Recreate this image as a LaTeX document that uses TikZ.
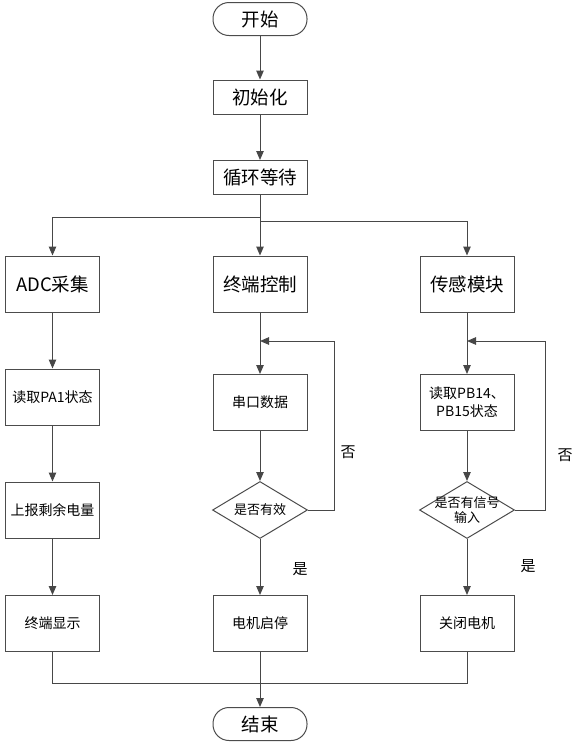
\documentclass[tikz,border=0pt]{standalone}
\usepackage{fontspec}
\newfontfamily\cjk{Noto Sans CJK SC}
\usetikzlibrary{arrows.meta,shapes.geometric}
\tikzset{
  ln/.style={draw=black!72,line width=1pt},
  arr/.style={ln,-{Triangle[length=9pt,width=7.5pt]}},
  base/.style={draw=black!70,line width=1pt,fill=white,inner sep=0pt,align=center,font=\cjk\fontsize{18.5}{21}\selectfont},
  term/.style={base,rectangle,rounded corners=16pt,minimum width=94pt,minimum height=33pt},
  bigbox/.style={base,rectangle,minimum width=94pt,minimum height=34pt},
  colbox/.style={base,rectangle,minimum width=94pt,minimum height=56pt},
  smallbox/.style={base,rectangle,minimum width=94pt,minimum height=56pt,font=\cjk\fontsize{14}{18}\selectfont},
  dia/.style={base,diamond,minimum width=95pt,minimum height=57pt},
  dtext/.style={font=\cjk\fontsize{13}{15.5}\selectfont,align=center},
  lbl/.style={font=\cjk\fontsize{15}{16}\selectfont,inner sep=0pt}
}
\begin{document}
\begin{tikzpicture}[x=1pt,y=-1pt]
\useasboundingbox (0,0) rectangle (582,748);
% top
\node[term] (start) at (260,19) {开始};
\node[bigbox] (init) at (260,97) {初始化};
\node[bigbox] (wait) at (260,177.5) {循环等待};
% row 1
\node[colbox] (adc) at (52.5,284) {ADC采集};
\node[colbox] (ctrl) at (260,284) {终端控制};
\node[colbox] (sens) at (467,284) {传感模块};
% row 2
\node[smallbox] (pa1) at (52.5,397) {读取PA1状态};
\node[smallbox] (uart) at (260,402.5) {串口数据};
\node[smallbox] (pb) at (467,402.5) {读取PB14、\\PB15状态};
% row 3
\node[smallbox] (rep) at (52.5,510) {上报剩余电量};
\node[dia,label={[dtext]center:是否有效}] (d1) at (260,510) {};
\node[dia,label={[dtext]center:是否有信号\\输入}] (d2) at (467,510) {};
% row 4
\node[smallbox] (disp) at (52.5,623.5) {终端显示};
\node[smallbox] (motor) at (260,623.5) {电机启停};
\node[smallbox] (off) at (467,623.5) {关闭电机};
% end
\node[term] (stop) at (260,724) {结束};
% labels
\node[lbl] (no1) at (348,452) {否};
\node[lbl] (no2) at (565,455) {否};
\node[lbl] (yes1) at (300,569) {是};
\node[lbl] (yes2) at (528,566) {是};
% coordinates
\coordinate (br) at (260,217);
\coordinate (br2) at (260,221);
\coordinate (j1) at (260,341);
\coordinate (c1) at (334,341);
\coordinate (j2) at (467,341);
\coordinate (c2) at (545,341);
\coordinate (m) at (260,683);
% connectors
\draw[arr] (start) -- (init);
\draw[arr] (init) -- (wait);
\draw[ln] (wait.south) -- (br);
\draw[arr] (br) -| (adc.north);
\draw[arr] (br) -- (ctrl.north);
\draw[arr] (br2) -| (sens.north);
\draw[arr] (adc) -- (pa1);
\draw[arr] (pa1) -- (rep);
\draw[arr] (rep) -- (disp);
\draw[arr] (ctrl) -- (uart);
\draw[arr] (uart) -- (d1);
\draw[arr] (d1) -- (motor);
\draw[arr] (d1.east) -| (c1) -- (j1);
\draw[arr] (sens) -- (pb);
\draw[arr] (pb) -- (d2);
\draw[arr] (d2) -- (off);
\draw[arr] (d2.east) -| (c2) -- (j2);
\draw[ln] (disp.south) |- (m);
\draw[ln] (off.south) |- (m);
\draw[arr] (motor) -- (stop);
\end{tikzpicture}
\end{document}
